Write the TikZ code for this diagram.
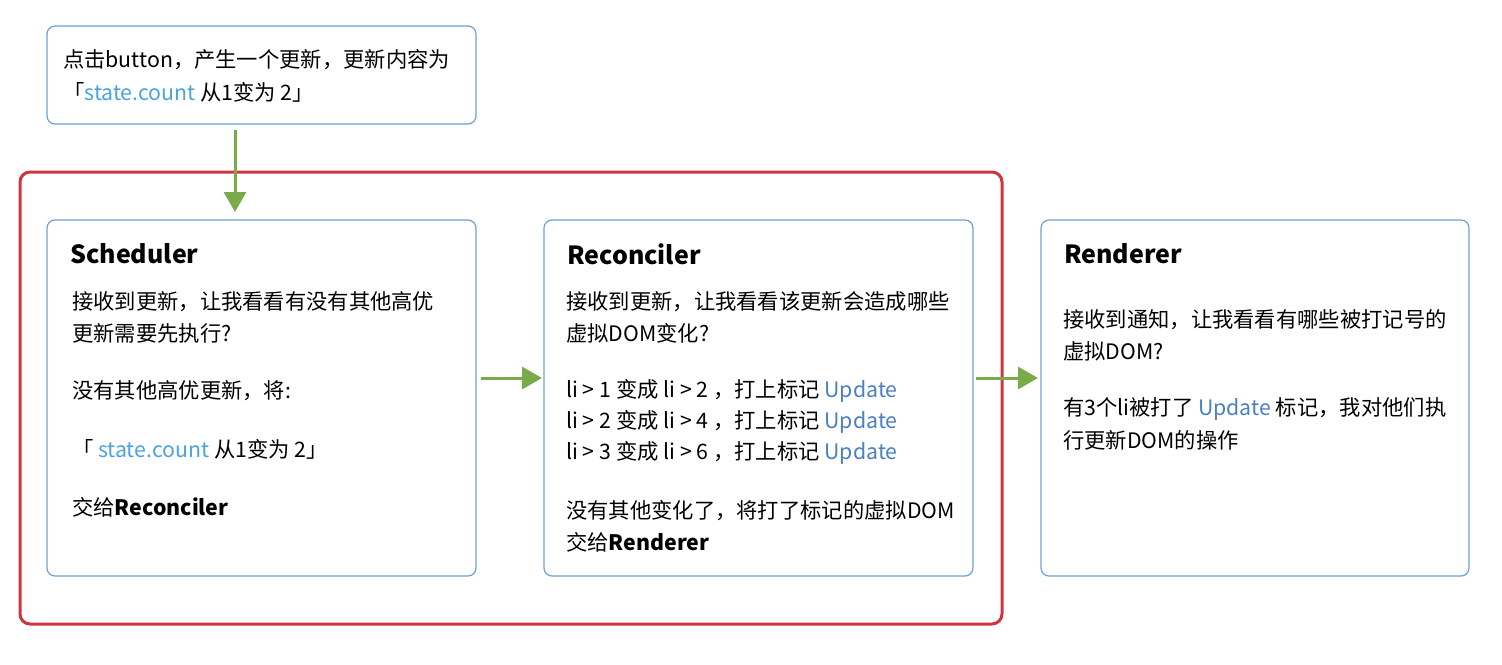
\documentclass[tikz,border=0pt]{standalone}
\usepackage{fontspec}
\setmainfont{Noto Sans CJK SC}
\definecolor{boxblue}{HTML}{6E9FD6}
\definecolor{redb}{HTML}{D0343F}
\definecolor{arrg}{HTML}{7AAB4A}
\definecolor{lb}{HTML}{4AA3DF}
\definecolor{ub}{HTML}{4A7FC0}
\usetikzlibrary{arrows.meta}
\begin{document}
\begin{tikzpicture}[x=1pt,y=-1pt,
  box/.style={draw=boxblue,line width=1.2pt,rounded corners=8pt},
  txt/.style={anchor=west,inner sep=0pt,font=\fontsize{21.3}{24}\selectfont},
  ttl/.style={anchor=west,inner sep=0pt,font=\fontsize{25}{28}\selectfont\bfseries},
  arr/.style={draw=arrg,line width=3pt,-{Triangle[length=20pt,width=22pt]}}]
\useasboundingbox (0,0) rectangle (1502,664);
\draw[draw=redb,line width=3pt,rounded corners=10pt] (20,172) rectangle (1002,624);
\draw[box] (47,26) rectangle (476,124);
\draw[box] (47,220) rectangle (476,576);
\draw[box] (544,220) rectangle (973,576);
\draw[box] (1041,220) rectangle (1469,576);
\coordinate (a0) at (235,130); \coordinate (a1) at (235,212);
\coordinate (b0) at (481,378); \coordinate (b1) at (542,378);
\coordinate (c0) at (976,378); \coordinate (c1) at (1038,378);
\draw[arr] (a0) -- (a1);
\draw[arr] (b0) -- (b1);
\draw[arr] (c0) -- (c1);
\node[txt] (t1) at (63,60) {点击button，产生一个更新，更新内容为};
\node[txt] (t2) at (63,92) {「\textcolor{lb}{state.count} 从1变为 2」};
\node[ttl] (s0) at (70,254) {Scheduler};
\node[txt] (s1) at (72,302) {接收到更新，让我看看有没有其他高优};
\node[txt] (s2) at (72,333) {更新需要先执行?};
\node[txt] (s3) at (72,391) {没有其他高优更新，将:};
\node[txt] (s4) at (72,449) {「 \textcolor{lb}{state.count} 从1变为 2」};
\node[txt] (s5) at (72,507) {交给\textbf{Reconciler}};
\node[ttl] (r0) at (567,254) {Reconciler};
\node[txt] (r1) at (566,302) {接收到更新，让我看看该更新会造成哪些};
\node[txt] (r2) at (566,333) {虚拟DOM变化?};
\node[txt] (r3) at (566,391) {li > 1 变成 li > 2 ，打上标记 \textcolor{ub}{Update}};
\node[txt] (r4) at (566,422) {li > 2 变成 li > 4 ，打上标记 \textcolor{ub}{Update}};
\node[txt] (r5) at (566,453) {li > 3 变成 li > 6 ，打上标记 \textcolor{ub}{Update}};
\node[txt] (r6) at (566,511) {没有其他变化了，将打了标记的虚拟DOM};
\node[txt] (r7) at (566,542) {交给\textbf{Renderer}};
\node[ttl] (n0) at (1064,254) {Renderer};
\node[txt] (n1) at (1063,320) {接收到通知，让我看看有哪些被打记号的};
\node[txt] (n2) at (1063,351) {虚拟DOM?};
\node[txt] (n3) at (1063,409) {有3个li被打了 \textcolor{ub}{Update} 标记，我对他们执};
\node[txt] (n4) at (1063,440) {行更新DOM的操作};
\end{tikzpicture}
\end{document}
